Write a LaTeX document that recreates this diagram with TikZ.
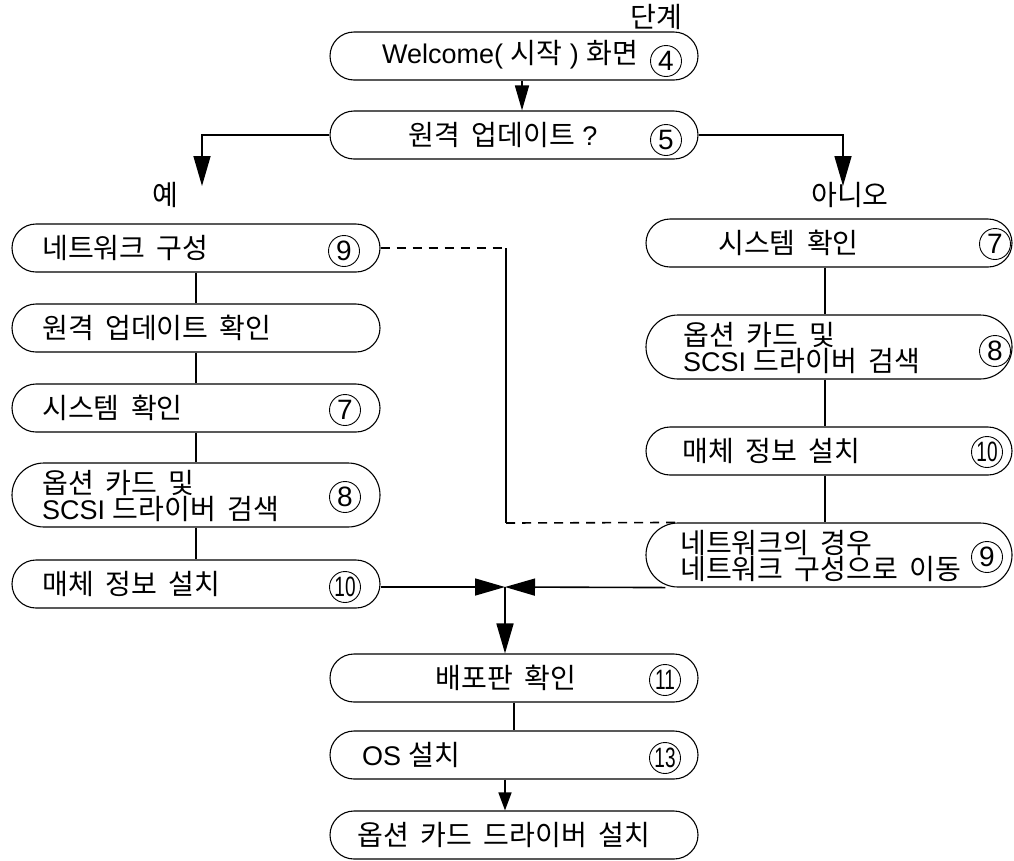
\documentclass[tikz,border=0pt]{standalone}
\usepackage{fontspec}
\setmainfont{Liberation Sans}
\newfontfamily\kr[WordSpace=1.8,Scale=1.04]{Noto Sans CJK KR}
\newcommand\kor[1]{{\kr #1}}
\usetikzlibrary{arrows.meta,calc}
\begin{document}
\begin{tikzpicture}[x=1pt,y=-1pt,
  box/.style={draw,line width=1.1pt,minimum width=368pt,minimum height=48pt,rounded corners=24pt,inner sep=0pt},
  tall/.style={minimum height=64pt,rounded corners=32pt},
  txt/.style={font=\fontsize{27}{25}\selectfont,inner sep=0pt},
  lt/.style={txt,anchor=west,align=left},
  num/.style={circle,draw,line width=0.9pt,minimum size=31pt,inner sep=0pt,font=\fontsize{28}{28}\selectfont},
  conn/.style={line width=1.6pt},
  arr/.style={conn,-{Triangle[length=30pt,width=17pt]}},
  sarr/.style={conn,-{Triangle[length=25pt,width=14pt]}},
  tarr/.style={conn,-{Triangle[length=18pt,width=13pt]}},
  dsh/.style={line width=1.6pt,dash pattern=on 9pt off 7pt}
]
\useasboundingbox (0,0) rectangle (1014,860);

% boxes
\node[box] (b1) at (514,56) {};
\node[box] (b2) at (514,135) {};
\node[box] (L1) at (196,248) {};
\node[box] (L2) at (196,328) {};
\node[box] (L3) at (196,408) {};
\node[box,tall] (L4) at (196,495) {};
\node[box] (L5) at (196,584) {};
\node[box,minimum width=366pt] (R1) at (829,243) {};
\node[box,tall,minimum width=366pt] (R2) at (829,347) {};
\node[box,minimum width=366pt] (R3) at (829,451) {};
\node[box,tall,minimum width=366pt] (R4) at (829,555) {};
\node[box] (B1) at (514,678) {};
\node[box] (B2) at (514,755) {};
\node[box] (B3) at (514,835) {};

% texts
\node[txt] (t0) at (656,17) {\kor{단계}};
\node[txt] (t1) at (510,55) {Welcome( \kor{시작} ) \kor{화면}};
\node[num] (n1) at (666,61) {4};
\node[txt] (t2) at (503,135) {\kor{원격 업데이트} ?};
\node[num] (n2) at (666,140) {5};
\node[txt] (yes) at (165,195) {\kor{예}};
\node[txt] (no) at (850,195) {\kor{아니오}};

\node[lt] (tL1) at (42,248) {\kor{네트워크 구성}};
\node[num] (nL1) at (344,251) {9};
\node[lt] (tL2) at (42,328) {\kor{원격 업데이트 확인}};
\node[lt] (tL3) at (42,408) {\kor{시스템 확인}};
\node[num] (nL3) at (345,410) {7};
\node[lt] (tL4) at (42,496) {\kor{옵션 카드 및}\\SCSI \kor{드라이버 검색}};
\node[num] (nL4) at (345,497) {8};
\node[lt] (tL5) at (42,584) {\kor{매체 정보 설치}};
\node[num] (nL5) at (345,587) {\scalebox{0.68}[1]{10}};

\node[lt] (tR1) at (718,243) {\kor{시스템 확인}};
\node[num] (nR1) at (995,244) {7};
\node[lt] (tR2) at (683,348) {\kor{옵션 카드 및}\\SCSI \kor{드라이버 검색}};
\node[num] (nR2) at (995,351) {8};
\node[lt] (tR3) at (682,451) {\kor{매체 정보 설치}};
\node[num] (nR3) at (987,452) {\scalebox{0.68}[1]{10}};
\node[lt] (tR4) at (680,556) {\kor{네트워크의 경우}\\\kor{네트워크 구성으로 이동}};
\node[num] (nR4) at (987,557) {9};

\node[txt] (tB1) at (506,678) {\kor{배포판 확인}};
\node[num] (nB1) at (665,680) {\scalebox{0.68}[1]{11}};
\node[lt] (tB2) at (362,755) {OS \kor{설치}};
\node[num] (nB2) at (665,758) {\scalebox{0.68}[1]{13}};
\node[txt] (tB3) at (504,835) {\kor{옵션 카드 드라이버 설치}};

% connectors
\draw[sarr] ($(b1.south)+(8,0)$) -- ($(b2.north)+(8,0)$);
\coordinate (yestip) at (202,186);
\coordinate (notip) at (843,186);
\draw[arr] (b2.west) -| (yestip);
\draw[arr] (b2.east) -| (notip);

\draw[conn] (L1.south) -- (L2.north);
\draw[conn] (L2.south) -- (L3.north);
\draw[conn] (L3.south) -- (L4.north);
\draw[conn] (L4.south) -- (L5.north);
\draw[conn] ($(R1.south)+(-4,0)$) -- ($(R2.north)+(-4,0)$);
\draw[conn] ($(R2.south)+(-4,0)$) -- ($(R3.north)+(-4,0)$);
\draw[conn] ($(R3.south)+(-4,0)$) -- ($(R4.north)+(-4,0)$);

\coordinate (d1) at (506,248);
\coordinate (d2) at (506,523);
\draw[dsh] (L1.east) -- (d1);
\draw[conn] (d1) -- (d2);
\draw[dsh] (d2) -- ($(R4.north west)+(36,0)$);

\coordinate (m) at (505,587);
\draw[arr] (L5.east |- m) -- (m);
\draw[arr] ($(R4.south west)+(20,0)$) -- (m);
\draw[arr] (m) -- (B1.north -| m);
\draw[conn] (B1.south) -- (B2.north);
\draw[tarr] (B2.south -| m) -- (B3.north -| m);
\end{tikzpicture}
\end{document}
